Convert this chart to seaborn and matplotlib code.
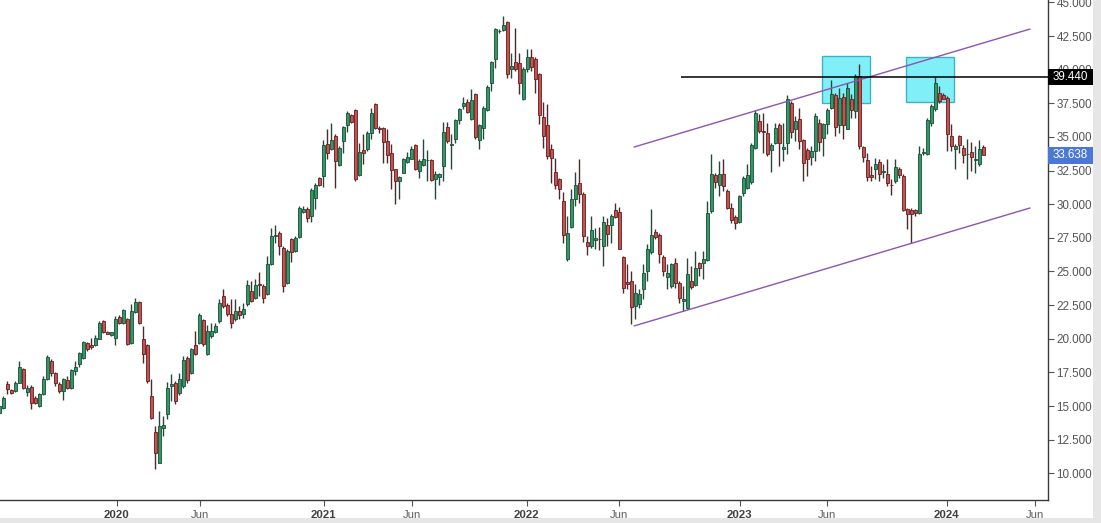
import numpy as np
import pandas as pd
import matplotlib
matplotlib.use("Agg")
import matplotlib.pyplot as plt
import seaborn as sns
from matplotlib.patches import Rectangle
from matplotlib.transforms import blended_transform_factory

# ---------------- data (weekly candles) ----------------
opens = [14.5, 14.88, 16.67, 16.17, 16.12, 16.74, 17.78, 16.07, 16.42, 15.58,
         15.01, 15.87, 16.99, 18.35, 17.44, 16.62, 16.12, 16.92, 16.37, 17.61,
         18.10, 18.60, 19.66, 19.50, 19.52, 20.01, 21.32, 20.50, 20.28, 20.09,
         21.62, 21.20, 21.45, 19.71, 21.99, 22.74, 20.01, 19.52, 15.75, 13.10,
         10.80, 13.40, 14.40, 16.50, 16.74, 16.00, 16.50, 18.55, 17.49, 19.52,
         19.71, 21.37, 18.85, 20.21, 20.50, 21.32, 23.18, 22.49, 21.82, 21.45,
         22.07, 21.82, 22.56, 23.55, 23.06, 24.05, 23.92, 23.30, 25.53, 27.60,
         27.84, 26.72, 24.12, 27.39, 26.52, 27.59, 29.42, 29.62, 29.12, 30.49,
         31.92, 32.10, 34.45, 34.08, 35.07, 32.91, 34.70, 35.86, 36.63, 36.98,
         32.17, 34.00, 34.08, 35.32, 37.42, 35.62, 35.64, 34.70, 33.78, 32.59,
         31.73, 32.34, 33.16, 33.38, 34.37, 32.47, 32.91, 33.26, 33.26, 31.85,
         32.02, 32.84, 35.76, 34.40, 34.82, 36.23, 37.30, 37.62, 36.30, 38.16,
         34.75, 35.69, 37.00, 39.03, 40.76, 42.84, 42.94, 43.56, 40.02, 40.59,
         40.47, 37.84, 40.02, 40.96, 40.77, 39.65, 36.50, 35.86, 34.13, 32.42,
         31.85, 30.24, 25.90, 28.33, 30.41, 31.60, 30.78, 27.21, 26.89, 27.34,
         27.41, 26.89, 28.45, 28.43, 29.57, 29.45, 26.10, 24.20, 24.29, 22.44,
         22.56, 23.67, 25.04, 26.45, 27.96, 27.71, 26.10, 24.61, 23.92, 25.66,
         24.17, 22.81, 22.32, 24.30, 23.99, 25.61, 25.61, 25.85, 29.50, 32.15,
         31.43, 32.22, 30.98, 29.75, 29.07, 28.70, 30.86, 31.18, 31.68, 34.20,
         36.18, 35.40, 35.32, 34.00, 34.57, 35.89, 34.13, 34.57, 37.50, 35.62,
         36.30, 34.75, 34.03, 33.53, 33.95, 36.06, 34.94, 35.93, 37.12, 38.11,
         35.86, 37.99, 35.61, 37.79, 36.92, 39.53, 34.28, 33.28, 32.15, 32.59,
         33.16, 32.42, 32.22, 31.43, 31.72, 32.59, 32.10, 29.62, 29.57, 29.55,
         29.37, 33.80, 33.70, 36.06, 37.05, 38.29, 38.09, 37.92, 35.07, 34.08,
         35.07, 34.20, 33.70, 33.88, 33.28, 32.96, 34.28]
highs = [15.1, 15.75, 16.87, 16.30, 16.87, 18.35, 17.86, 16.54, 16.54, 15.75,
         16.00, 17.24, 18.77, 18.47, 17.54, 16.79, 17.11, 17.24, 17.73, 18.35,
         19.02, 19.84, 19.76, 20.08, 20.26, 21.32, 21.40, 20.55, 20.50, 21.70,
         21.74, 22.24, 21.57, 22.56, 23.06, 22.81, 20.95, 19.59, 16.99, 13.52,
         14.64, 14.26, 16.81, 17.36, 16.87, 17.44, 18.72, 18.72, 19.34, 20.58,
         21.94, 21.50, 21.00, 21.20, 21.20, 22.93, 23.68, 22.69, 22.93, 22.93,
         22.44, 22.69, 24.40, 24.30, 24.42, 24.96, 24.05, 26.15, 28.26, 28.46,
         28.01, 26.89, 26.65, 27.51, 27.64, 29.87, 29.87, 29.79, 31.23, 31.60,
         32.05, 34.77, 35.61, 36.06, 35.19, 34.33, 35.81, 36.93, 36.68, 37.10,
         34.57, 35.19, 35.44, 37.17, 37.50, 35.81, 35.76, 35.57, 34.45, 32.64,
         32.10, 33.46, 33.88, 34.33, 34.45, 33.33, 34.87, 34.00, 33.33, 32.47,
         32.34, 36.11, 36.11, 35.19, 36.36, 37.17, 37.97, 37.79, 38.59, 38.29,
         35.93, 37.30, 38.83, 40.64, 43.12, 42.99, 43.98, 43.61, 41.26, 43.07,
         41.26, 40.22, 41.51, 41.56, 40.96, 39.77, 37.60, 37.42, 34.45, 33.46,
         31.97, 30.90, 29.12, 31.10, 32.39, 33.38, 30.90, 27.64, 29.12, 28.26,
         28.30, 29.12, 29.00, 29.25, 30.12, 29.82, 26.15, 25.53, 25.04, 24.05,
         23.67, 25.53, 27.02, 29.62, 28.18, 27.84, 26.20, 25.53, 25.66, 26.03,
         24.30, 23.92, 26.03, 25.41, 26.52, 25.71, 26.52, 30.24, 33.71, 32.34,
         33.21, 33.33, 31.10, 30.12, 29.17, 30.66, 32.10, 32.96, 34.57, 37.00,
         36.68, 36.80, 36.06, 34.57, 36.06, 36.06, 36.06, 38.09, 37.67, 36.55,
         37.17, 34.82, 34.20, 34.33, 36.80, 36.30, 36.06, 37.17, 39.23, 38.29,
         38.66, 38.29, 39.03, 38.16, 39.65, 40.39, 34.33, 33.83, 32.84, 33.46,
         33.33, 32.96, 33.33, 31.85, 33.38, 32.79, 32.22, 29.74, 29.74, 29.67,
         34.33, 34.20, 36.43, 37.42, 39.44, 38.78, 38.24, 38.04, 35.93, 34.45,
         35.14, 34.37, 34.82, 34.62, 34.33, 34.77, 34.37]
lows = [14.4, 14.76, 15.87, 15.87, 16.05, 16.69, 16.30, 15.75, 14.81, 15.13,
        14.96, 15.80, 16.94, 17.24, 16.50, 16.00, 15.43, 16.25, 16.30, 17.31,
        17.93, 18.47, 19.10, 19.27, 19.47, 19.96, 20.41, 20.33, 20.20, 19.54,
        21.08, 21.08, 19.54, 19.59, 21.94, 21.08, 18.23, 16.74, 14.07, 10.30,
        10.75, 12.78, 14.02, 15.38, 15.13, 15.80, 16.37, 16.74, 17.36, 18.77,
        19.59, 19.47, 18.77, 20.08, 20.41, 21.20, 22.32, 21.70, 20.83, 21.32,
        21.50, 21.57, 22.44, 22.73, 22.93, 23.18, 22.64, 23.23, 25.46, 27.14,
        26.20, 23.48, 24.05, 25.71, 26.45, 27.51, 29.32, 28.68, 28.68, 29.62,
        31.35, 31.30, 33.38, 34.03, 31.23, 32.84, 33.83, 35.37, 36.06, 31.73,
        32.10, 32.96, 33.95, 34.87, 35.57, 35.32, 33.09, 33.09, 31.10, 29.99,
        30.41, 32.29, 33.09, 33.33, 32.54, 31.97, 32.84, 31.72, 31.72, 30.41,
        31.40, 31.72, 34.57, 32.64, 34.57, 35.93, 37.05, 36.75, 36.26, 34.82,
        34.13, 34.87, 36.93, 38.41, 40.15, 42.75, 42.87, 39.40, 39.40, 39.90,
        38.16, 37.74, 39.82, 39.90, 38.29, 35.93, 34.20, 33.33, 31.60, 31.10,
        30.36, 27.14, 25.78, 28.26, 29.86, 30.12, 27.19, 26.20, 26.77, 26.65,
        26.60, 25.41, 26.89, 27.14, 29.00, 26.65, 23.43, 23.67, 21.07, 21.45,
        22.32, 22.93, 24.30, 26.28, 27.44, 25.66, 24.66, 23.67, 23.80, 23.80,
        22.69, 22.07, 22.19, 23.67, 23.92, 24.66, 24.42, 25.78, 29.37, 31.23,
        30.61, 30.98, 29.62, 28.63, 28.13, 28.63, 30.61, 31.10, 31.48, 34.13,
        35.32, 33.83, 33.58, 32.39, 34.45, 32.84, 33.21, 33.70, 34.94, 34.70,
        34.08, 31.72, 32.10, 32.89, 33.21, 33.95, 33.58, 35.19, 37.05, 35.07,
        35.32, 34.82, 35.56, 36.43, 36.43, 34.08, 33.13, 31.72, 31.72, 31.85,
        31.72, 31.97, 31.35, 30.70, 31.60, 31.97, 29.50, 28.13, 27.14, 29.12,
        29.25, 33.63, 33.63, 35.81, 36.93, 37.54, 37.79, 33.95, 33.95, 32.59,
        33.83, 33.09, 31.90, 32.47, 32.34, 32.84, 33.70]
closes = [15.0, 15.63, 16.30, 16.00, 16.74, 17.93, 16.37, 16.32, 15.26, 15.21,
          15.87, 16.99, 18.65, 17.49, 16.69, 16.12, 17.04, 16.32, 17.68, 17.91,
          18.92, 19.76, 19.22, 19.40, 20.08, 21.20, 20.50, 20.38, 20.50, 21.50,
          21.20, 22.12, 19.64, 22.07, 22.74, 21.20, 18.85, 16.87, 14.14, 11.54,
          13.52, 13.60, 16.32, 16.62, 15.38, 17.04, 18.40, 16.94, 19.22, 18.85,
          21.74, 19.59, 20.58, 20.58, 20.95, 22.64, 22.44, 21.82, 21.20, 22.07,
          21.74, 22.24, 24.00, 22.81, 23.97, 24.00, 23.06, 25.53, 27.64, 27.72,
          26.89, 23.92, 26.52, 26.45, 27.51, 29.74, 29.67, 29.00, 31.03, 31.40,
          31.43, 34.37, 33.78, 34.75, 33.21, 34.20, 35.74, 36.80, 36.13, 31.85,
          33.88, 33.78, 35.32, 36.80, 35.69, 35.60, 34.65, 33.63, 32.54, 31.73,
          32.02, 33.33, 33.51, 34.13, 32.59, 33.21, 33.33, 33.30, 31.80, 32.22,
          32.22, 35.39, 34.70, 34.40, 36.23, 37.05, 37.55, 36.85, 37.72, 35.02,
          35.86, 37.17, 38.73, 40.57, 42.99, 42.90, 43.29, 39.70, 40.27, 40.02,
          39.03, 40.07, 40.94, 40.22, 39.33, 36.60, 35.07, 33.58, 33.43, 31.40,
          31.15, 27.71, 27.88, 30.41, 31.40, 30.73, 27.64, 26.89, 28.06, 27.51,
          27.39, 28.70, 27.81, 29.12, 29.07, 26.70, 23.80, 24.05, 22.39, 23.38,
          23.30, 24.91, 26.65, 27.69, 27.59, 26.28, 25.04, 24.91, 25.53, 24.17,
          23.00, 22.93, 24.79, 23.87, 25.24, 25.28, 25.90, 29.32, 32.22, 31.65,
          32.22, 31.35, 29.75, 28.80, 28.58, 30.61, 31.92, 32.15, 34.37, 36.75,
          35.44, 35.35, 33.70, 34.40, 35.69, 34.57, 34.28, 37.79, 35.39, 36.18,
          34.70, 33.04, 33.33, 33.95, 36.55, 34.62, 35.93, 36.98, 38.16, 35.76,
          37.92, 35.86, 38.66, 37.00, 39.53, 34.33, 33.53, 32.05, 32.05, 32.96,
          32.22, 32.45, 31.55, 31.40, 32.79, 32.15, 29.57, 29.25, 29.25, 29.37,
          33.70, 33.83, 36.26, 37.30, 39.03, 37.67, 37.84, 35.19, 34.33, 34.33,
          34.37, 33.63, 33.72, 33.53, 33.30, 34.08, 33.638]

x_tick_pos = [29.4, 50.2, 81.15, 103.1, 131.9, 155.0, 185.1, 207.05, 236.9, 259.0]
x_tick_labels = ["2020", "Jun", "2021", "Jun", "2022", "Jun", "2023", "Jun", "2024", "Jun"]
y_ticks = [10, 12.5, 15, 17.5, 20, 22.5, 25, 27.5, 30, 32.5, 35, 37.5, 40, 42.5, 45]

# channel lines (start/end in bar index and price)
upper_channel_x = [158.7, 257.7]
upper_channel_y = [34.25, 43.02]
lower_channel_x = [158.7, 257.7]
lower_channel_y = [20.95, 29.72]
resistance_level = 39.44
resistance_start = 170.4
last_price = 33.638
# highlight boxes: (x0, x1, y0, y1)
boxes = [(205.7, 217.8, 37.55, 41.02), (226.7, 238.75, 37.62, 40.92)]

# ---------------- figure ----------------
sns.set_style("white")
plt.rcParams['font.family'] = ['Liberation Sans', 'DejaVu Sans']

W, H = 1101, 523
fig = plt.figure(figsize=(W / 100, H / 100), dpi=100)
fig.patch.set_facecolor("white")
ax = fig.add_axes([0, 23 / H, 1048 / W, 500 / H])

df = pd.DataFrame({"i": np.arange(len(opens)), "open": opens, "high": highs,
                   "low": lows, "close": closes})
df["up"] = df["close"] >= df["open"]
df["bottom"] = df[["open", "close"]].min(axis=1)
df["height"] = (df["close"] - df["open"]).abs().clip(lower=0.06)

green_face, green_edge = "#2f9a66", "#1d4a36"
red_face, red_edge = "#c9504f", "#5c2020"

# highlight boxes (behind candles)
for (x0, x1, y0, y1) in boxes:
    ax.add_patch(Rectangle((x0, y0), x1 - x0, y1 - y0, facecolor="#80eff8",
                           edgecolor="#3fb2c2", linewidth=1.0, zorder=1))

ax.vlines(df["i"], df["low"], df["high"],
          colors=np.where(df["up"], "#25483a", "#4a2a2a"), linewidth=1.0, zorder=2)
ax.bar(df["i"], df["height"], bottom=df["bottom"], width=0.74,
       color=np.where(df["up"], green_face, red_face),
       edgecolor=np.where(df["up"], green_edge, red_edge), linewidth=0.6, zorder=3)

purple = "#8a55b3"
ax.plot(upper_channel_x, upper_channel_y, color=purple, linewidth=1.0, zorder=4)
ax.plot(lower_channel_x, lower_channel_y, color=purple, linewidth=1.0, zorder=4)
ax.hlines(resistance_level, resistance_start, 262.2, color="black", linewidth=1.1, zorder=4)

ax.set_xlim(0.175, 262.2)
ax.set_ylim(8.015, 45.178)

# axes styling
for s in ["top", "left"]:
    ax.spines[s].set_visible(False)
for s in ["right", "bottom"]:
    ax.spines[s].set_color("#3a3a3a")
    ax.spines[s].set_linewidth(1.0)

ax.yaxis.tick_right()
ax.set_yticks(y_ticks)
ax.set_yticklabels([f"{v:.3f}" for v in y_ticks])
ax.tick_params(axis="y", direction="out", length=4, width=0.8, color="#555555",
               labelcolor="#555555", labelsize=8.4, pad=2, right=True, left=False)
ax.set_xticks(x_tick_pos)
ax.set_xticklabels(x_tick_labels)
ax.tick_params(axis="x", direction="out", length=4, width=0.8, color="#555555",
               labelsize=8.2, pad=3, bottom=True)
for lab in ax.get_xticklabels():
    if lab.get_text().isdigit():
        lab.set_fontweight("bold")
        lab.set_color("#404040")
    else:
        lab.set_color("#606060")

# price labels on the right axis
tr = blended_transform_factory(ax.transAxes, ax.transData)
bw = 44.7 / 1048
bh = 16.5 / 13.454
for val, col in [(resistance_level, "black"), (last_price, "#4a78d4")]:
    ax.add_patch(Rectangle((1.0, val - bh / 2), bw, bh, transform=tr, facecolor=col,
                           edgecolor="none", clip_on=False, zorder=20))
    ax.text(1.0 + bw / 2, val, f"{val:.3f}", transform=tr, ha="center", va="center",
            color="white", fontsize=8.4, zorder=21, clip_on=False)

# grey frame strips
fig.add_artist(Rectangle((0, 0), 1, 5 / H, transform=fig.transFigure,
                         facecolor="#e6e6e6", edgecolor="none"))
fig.add_artist(Rectangle((1093 / W, 0), 8 / W, 1, transform=fig.transFigure,
                         facecolor="#e6e6e6", edgecolor="none"))

fig.savefig("out.png", dpi=100)
